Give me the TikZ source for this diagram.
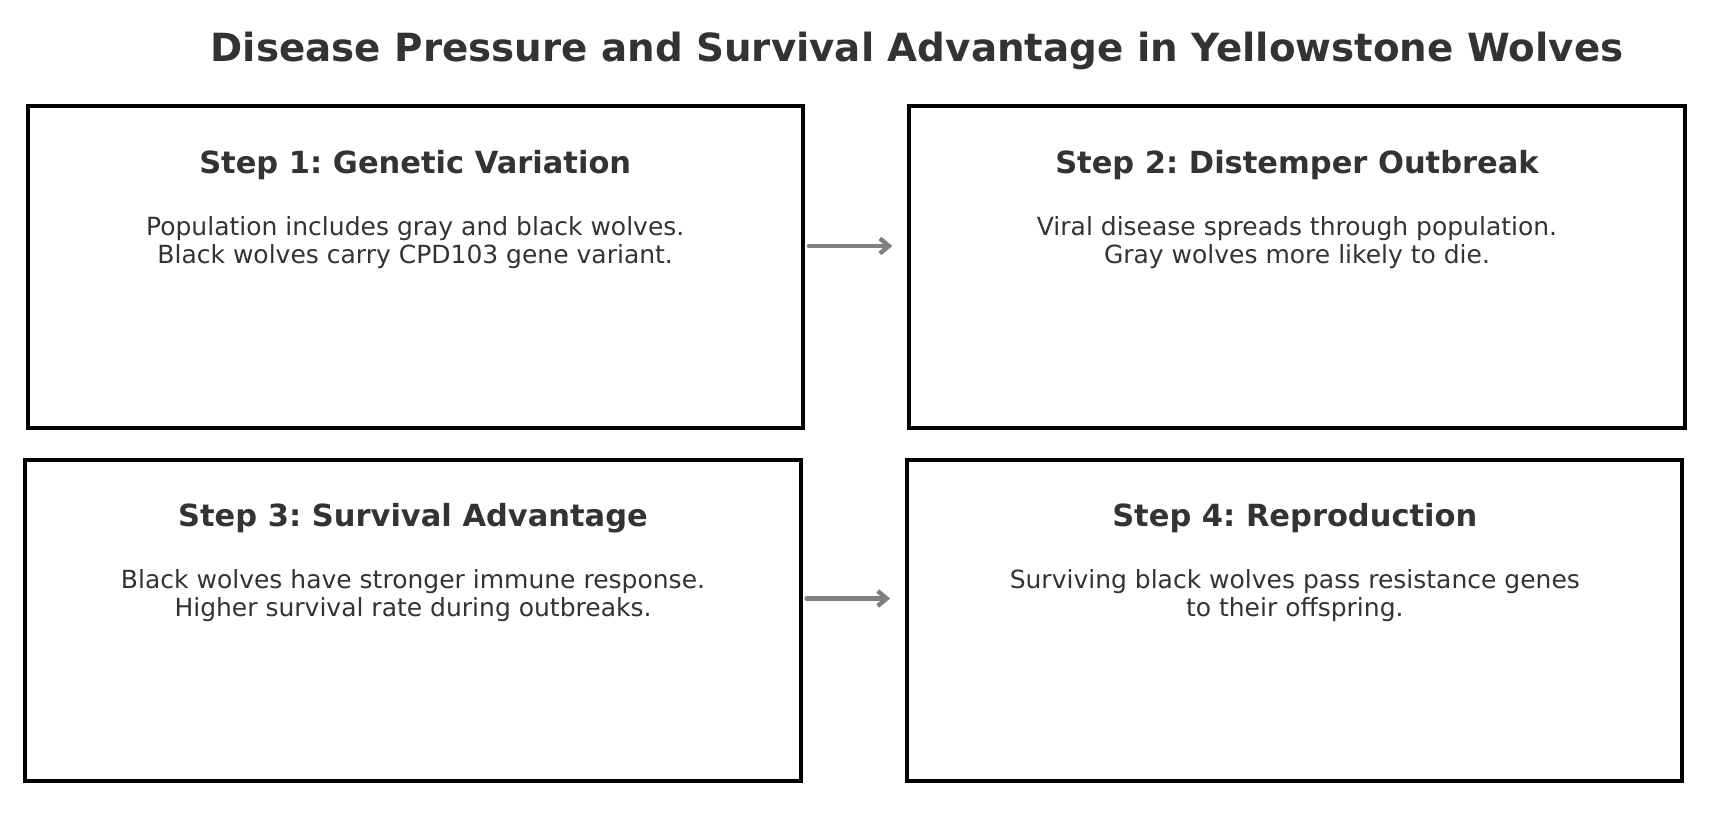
\documentclass[tikz,border=0pt]{standalone}
\usepackage{fontspec}
\setmainfont{DejaVu Sans}
\frenchspacing
\definecolor{txt}{HTML}{333333}
\definecolor{arr}{HTML}{808080}
\usetikzlibrary{arrows.meta}
\tikzset{
  box/.style={draw=black, line width=4pt, fill=white},
  steptitle/.style={text=txt, font=\fontsize{30.5}{36}\selectfont\bfseries, anchor=center, inner sep=0pt},
  stepbody/.style={text=txt, font=\fontsize{25}{28}\selectfont, align=center, anchor=north, inner sep=0pt},
  flow/.style={draw=arr, line width=4.4pt, -{Straight Barb[length=9pt,width=15pt,line width=4.4pt]}, line cap=round},
}
\begin{document}
\begin{tikzpicture}[x=1pt,y=-1pt]
\useasboundingbox (0,0) rectangle (1722,813);
\node[text=txt, font=\fontsize{38.8}{46}\selectfont\bfseries, inner sep=0pt] (title) at (917,51) {Disease Pressure and Survival Advantage in Yellowstone Wolves};

\draw[box] (27.5,106.5) rectangle (802.8,428.3);
\coordinate (b1r) at (802.8,246);
\draw[box] (909.3,106.5) rectangle (1684.6,428.3);
\coordinate (b2l) at (909.3,246);
\draw[box] (25.3,460.1) rectangle (800.6,780.8);
\coordinate (b3r) at (800.6,598.5);
\draw[box] (907.1,460.1) rectangle (1682.4,780.8);
\coordinate (b4l) at (907.1,598.5);

\node[steptitle] (t1) at (415.2,165) {Step 1: Genetic Variation};
\node[stepbody] (d1) at (415.2,216) {Population includes gray and black wolves.\\Black wolves carry CPD103 gene variant.};
\node[steptitle] (t2) at (1297,165) {Step 2: Distemper Outbreak};
\node[stepbody] (d2) at (1297,216) {Viral disease spreads through population.\\Gray wolves more likely to die.};
\node[steptitle] (t3) at (413,518) {Step 3: Survival Advantage};
\node[stepbody] (d3) at (413,569) {Black wolves have stronger immune response.\\Higher survival rate during outbreaks.};
\node[steptitle] (t4) at (1294.8,518) {Step 4: Reproduction};
\node[stepbody] (d4) at (1294.8,569) {Surviving black wolves pass resistance genes\\to their offspring.};

\draw[flow] ([xshift=6pt]b1r) -- ([xshift=-17pt]b2l);
\draw[flow] ([xshift=6pt]b3r) -- ([xshift=-17pt]b4l);
\end{tikzpicture}
\end{document}
